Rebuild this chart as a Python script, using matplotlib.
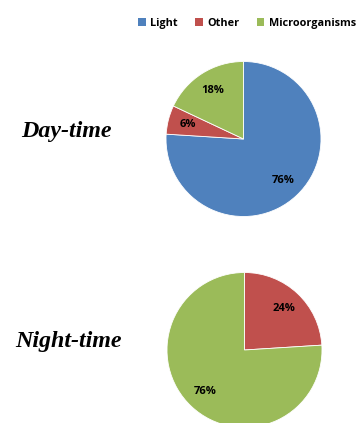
import matplotlib
matplotlib.use("Agg")
import matplotlib.pyplot as plt
from matplotlib.patches import Patch

categories = ["Light", "Other", "Microorganisms"]
day_values = [76, 6, 18]
night_values = [0, 24, 76]
colors = ["#4F81BD", "#C0504D", "#9BBB59"]
period_labels = ["Day-time", "Night-time"]

W, H = 360, 423
fig = plt.figure(figsize=(W / 100, H / 100), dpi=100)


def ax_at(cx, cy, r):
    return fig.add_axes([(cx - r) / W, (H - cy - r) / H, 2 * r / W, 2 * r / H])


def pct(v):
    return "" if v < 0.5 else f"{v:.0f}%"


for vals, (cx, cy), lbl, (tx, ty) in [
    (day_values, (243.5, 139), period_labels[0], (66.5, 132)),
    (night_values, (244.5, 350), period_labels[1], (68, 341)),
]:
    ax = ax_at(cx, cy, 77.5)
    wedges, texts, autotexts = ax.pie(
        vals, colors=colors, startangle=90, counterclock=False,
        autopct=pct, pctdistance=0.74, radius=1,
        wedgeprops=dict(edgecolor="white", linewidth=0.6),
        textprops=dict(fontsize=8, fontweight="bold", family="Open Sans", color="black"),
    )
    ax.set_xlim(-1, 1)
    ax.set_ylim(-1, 1)
    ax.set_aspect("equal")
    ax.axis("off")
    for w in wedges:
        w.set_clip_on(False)
    fig.text(tx / W, 1 - ty / H, lbl, ha="center", va="center",
             fontsize=17.3, fontweight="bold", fontstyle="italic",
             family="Liberation Serif")

handles = [Patch(facecolor=c, edgecolor="none") for c in colors]
fig.legend(handles, categories, loc="center", bbox_to_anchor=(247 / W, 1 - 23.5 / H),
           ncol=3, frameon=False, prop=dict(family="Open Sans", weight="bold", size=7.8),
           handlelength=0.7, handleheight=0.7, handletextpad=0.4, columnspacing=1.6)

fig.savefig("out.png", dpi=100)
